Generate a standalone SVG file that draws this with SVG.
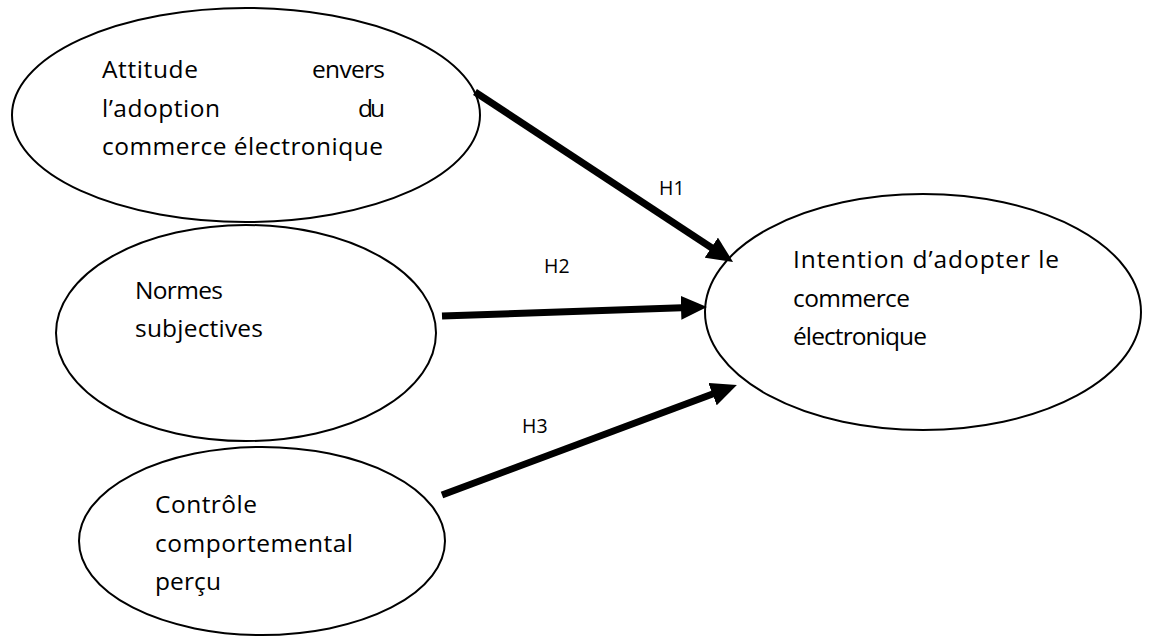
<svg xmlns="http://www.w3.org/2000/svg" width="1149" height="636" viewBox="0 0 1149 636">
<style>
.node ellipse{fill:#fff;stroke:#000;stroke-width:2}
.t{font-family:"Open Sans","Liberation Sans",sans-serif;font-size:24.5px;fill:#000}
.lbl{font-family:"Open Sans","DejaVu Sans",sans-serif;font-size:19.5px;fill:#000}
.conn line{stroke:#000;stroke-width:7}
</style>
<defs>
<marker id="ah" markerUnits="userSpaceOnUse" markerWidth="26" markerHeight="24" refX="8" refY="12" orient="auto">
<path d="M0,0 L26,12 L0,24 z" fill="#000"/>
</marker>
</defs>
<rect width="1149" height="636" fill="#fff"/>
<g id="n1" class="node">
<ellipse cx="246" cy="115" rx="234" ry="107"/>
<text class="t" x="102" y="78" textLength="96" lengthAdjust="spacing">Attitude</text>
<text class="t" x="312" y="78" textLength="73" lengthAdjust="spacing">envers</text>
<text class="t" x="102" y="117" textLength="118" lengthAdjust="spacing">l’adoption</text>
<text class="t" x="358" y="117" textLength="27" lengthAdjust="spacing">du</text>
<text class="t" x="102" y="155" textLength="281" lengthAdjust="spacing">commerce électronique</text>
</g>
<g id="n2" class="node">
<ellipse cx="246" cy="333" rx="190" ry="108"/>
<text class="t" x="135" y="299" textLength="88" lengthAdjust="spacing">Normes</text>
<text class="t" x="135" y="337" textLength="128" lengthAdjust="spacing">subjectives</text>
</g>
<g id="n3" class="node">
<ellipse cx="262" cy="541" rx="183" ry="94"/>
<text class="t" x="155" y="513" textLength="102" lengthAdjust="spacing">Contrôle</text>
<text class="t" x="155" y="552" textLength="198" lengthAdjust="spacing">comportemental</text>
<text class="t" x="155" y="590" textLength="66" lengthAdjust="spacing">perçu</text>
</g>
<g id="n4" class="node">
<ellipse cx="923" cy="312" rx="218" ry="118"/>
<text class="t" x="793" y="268" textLength="266" lengthAdjust="spacing">Intention d’adopter le</text>
<text class="t" x="793" y="307" textLength="117" lengthAdjust="spacing">commerce</text>
<text class="t" x="793" y="345" textLength="134" lengthAdjust="spacing">électronique</text>
</g>
<g id="connectors" class="conn">
<line x1="475" y1="92" x2="718" y2="252" marker-end="url(#ah)"/>
<line x1="442" y1="316" x2="689" y2="307.6" marker-end="url(#ah)"/>
<line x1="442" y1="495" x2="720" y2="391.3" marker-end="url(#ah)"/>
<text class="lbl" x="659" y="195">H1</text>
<text class="lbl" x="544" y="273">H2</text>
<text class="lbl" x="522" y="433">H3</text>
</g>
</svg>
